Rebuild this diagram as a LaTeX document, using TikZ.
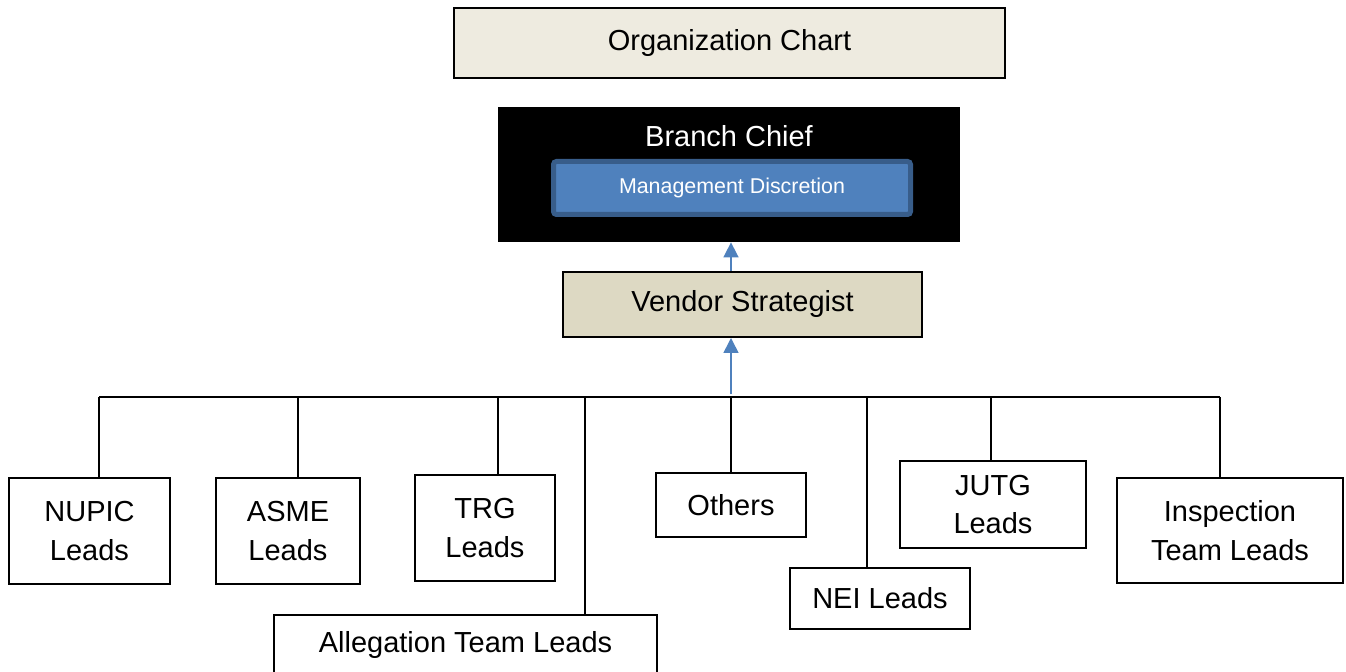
\documentclass[tikz,border=0pt]{standalone}
\usepackage{fontspec}
\setmainfont{Liberation Sans}
\usepackage{xcolor}
\usepackage{tikz}
\usetikzlibrary{arrows.meta}
\usetikzlibrary{calc,backgrounds}
\definecolor{tan1} {RGB} {238, 235, 224}
\definecolor{tan2} {RGB} {221, 217, 195}
\definecolor{steel1} {RGB} {79, 129, 189}
\definecolor{steel2} {RGB} {56, 93, 138}
\tikzstyle{org}=[
  x=0.5pt, y=-0.5pt, >={Triangle[width=7.5pt,length=7.5pt]},
  font=\fontsize{14.5}{19.3}\selectfont
]
\tikzstyle{orgnode}=[
  draw, line width=1pt, inner sep=0pt, align=center
]
\tikzstyle{orgtitle}=[
  orgnode, fill=tan1
]
\tikzstyle{orgvendor}=[
  orgnode, fill=tan2
]
\tikzstyle{orgchief}=[
  fill=black, inner sep=0pt
]
\tikzstyle{orgchiefname}=[
  text=white, inner sep=0pt
]
\tikzstyle{orgdiscretion}=[
  draw=steel2, line width=2.5pt, fill=steel1, rounded corners=1.5pt,
  text=white, inner sep=0pt, font=\fontsize{10.7}{13}\selectfont
]
\tikzstyle{orglead}=[
  orgnode, fill=white
]
\tikzstyle{orgedge}=[
  line width=1pt
]
\tikzstyle{orgarrow}=[
  ->, draw=steel1, fill=steel1, line width=0.8pt
]

\begin{document}
\begin{tikzpicture}[org]
    \useasboundingbox (0, 0) rectangle (1346, 672);
    \node (title) [orgtitle, minimum width=275.5pt, minimum height=35pt] at (729.5, 43) {Organization Chart};
    \node (chief) [orgchief, minimum width=231pt, minimum height=67.5pt] at (729, 174.5) {};
    \node (chiefname) [orgchiefname] at ($(chief.north) + (0, 30)$) {Branch Chief};
    \node (discretion) [orgdiscretion, minimum width=178.5pt, minimum height=26.5pt] at (732, 188) {Management Discretion};
    \node (vendor) [orgvendor, minimum width=179.5pt, minimum height=32.5pt] at (742.5, 304.5) {Vendor Strategist};
    \node (nupic) [orglead, minimum width=80.5pt, minimum height=53pt] at (89.5, 531) {NUPIC\\Leads};
    \node (asme) [orglead, minimum width=72pt, minimum height=53pt] at (288, 531) {ASME\\Leads};
    \node (trg) [orglead, minimum width=70pt, minimum height=53pt] at (485, 528) {TRG\\Leads};
    \node (alleg) [orglead, minimum width=191.5pt, minimum height=30pt] at (465.5, 645) {Allegation Team Leads};
    \node (others) [orglead, minimum width=75pt, minimum height=32pt] at (731, 505) {Others};
    \node (nei) [orglead, minimum width=90pt, minimum height=30.5pt] at (880, 598.5) {NEI Leads};
    \node (jutg) [orglead, minimum width=93pt, minimum height=43.5pt] at (993, 504.5) {JUTG\\Leads};
    \node (insp) [orglead, minimum width=113pt, minimum height=52.5pt] at (1230, 530.5) {Inspection\\Team Leads};
    \coordinate (nupic top) at (99, 397.5);
    \coordinate (asme top) at (298, 397.5);
    \coordinate (trg top) at (498, 397.5);
    \coordinate (alleg top) at (585, 397.5);
    \coordinate (others top) at (731, 397.5);
    \coordinate (nei top) at (867, 397.5);
    \coordinate (jutg top) at (991, 397.5);
    \coordinate (insp top) at (1220, 397.5);
    \begin{scope}[on background layer]
    \draw [orgedge] (nupic top) -- (insp top);
    \draw [orgedge] (nupic top) -- (nupic top |- nupic.north);
    \draw [orgedge] (asme top) -- (asme top |- asme.north);
    \draw [orgedge] (trg top) -- (trg top |- trg.north);
    \draw [orgedge] (alleg top) -- (alleg top |- alleg.north);
    \draw [orgedge] (others top) -- (others top |- others.north);
    \draw [orgedge] (nei top) -- (nei top |- nei.north);
    \draw [orgedge] (jutg top) -- (jutg top |- jutg.north);
    \draw [orgedge] (insp top) -- (insp top |- insp.north);
    \draw [orgarrow] ($(others top) + (0, -3)$) -- (others top |- vendor.south);
    \draw [orgarrow] (vendor.north -| others top) -- (chief.south -| others top);
    \end{scope}
\end{tikzpicture}
\end{document}
